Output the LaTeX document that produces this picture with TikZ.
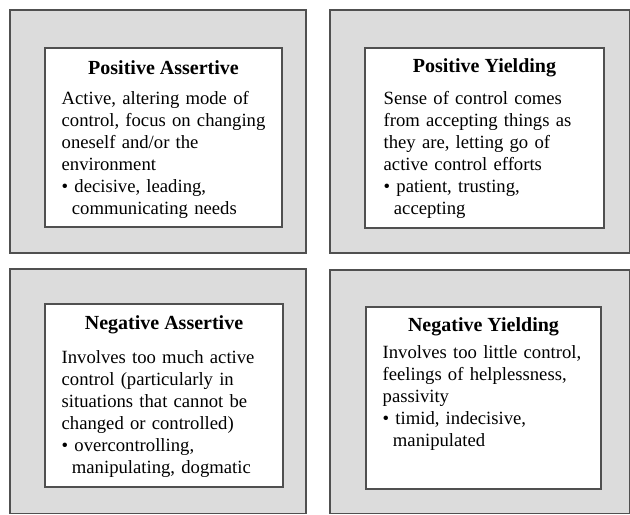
\documentclass[tikz,border=0pt]{standalone}
\usepackage{fontspec}
\setmainfont{Liberation Serif}
\usetikzlibrary{positioning}
\definecolor{panelgray}{RGB}{220,220,220}
\definecolor{edgegray}{RGB}{80,80,80}
\tikzset{
  panel/.style={draw=edgegray, line width=0.9, fill=panelgray},
  card/.style={draw=edgegray, line width=0.9, fill=white, inner sep=0},
  cardtitle/.style={font=\fontsize{15}{18}\selectfont\bfseries, inner sep=0},
  cardtext/.style={font=\fontsize{14}{16.5}\selectfont, align=left, text width=220, inner sep=0, anchor=north west},
}
\newcommand{\bulitem}[2]{\textbullet\ #1\\\hspace*{0.55em}#2}
\begin{document}
\begin{tikzpicture}[x=0.75pt,y=0.75pt,yscale=-1,xscale=1]
        \useasboundingbox (0,0) rectangle (630,514);
        \fill[white] (0,0) rectangle (630,514);

        %Shape: Rectangle [id:panelPA]
        \draw [panel] (10,10) rectangle (306,253) ;
        %Shape: Rectangle [id:panelPY]
        \draw [panel] (330,10) rectangle (629.5,253) ;
        %Shape: Rectangle [id:panelNA]
        \draw [panel] (10,269) rectangle (306,513.5) ;
        %Shape: Rectangle [id:panelNY]
        \draw [panel] (330,270) rectangle (629.5,513.5) ;

        %Shape: Card [id:posassert]
        \node [card, minimum width=237*0.75pt, minimum height=179*0.75pt] (posassert) at (163.5,137.5) {};
        \node [cardtitle, below=20*0.75pt of posassert.north, anchor=center] (posasserttitle) {Positive Assertive};
        \node [cardtext] (posasserttext) at ([xshift=17*0.75pt, yshift=44*0.75pt]posassert.north west)
          {Active, altering mode of\\control, focus on changing\\oneself and/or the\\environment\\\bulitem{decisive, leading,}{communicating needs}};

        %Shape: Card [id:posyield]
        \node [card, minimum width=239*0.75pt, minimum height=180*0.75pt] (posyield) at (484.5,138) {};
        \node [cardtitle, below=20*0.75pt of posyield.north, anchor=center] (posyieldtitle) {Positive Yielding};
        \node [cardtext] (posyieldtext) at ([xshift=19*0.75pt, yshift=44*0.75pt]posyield.north west)
          {Sense of control comes\\from accepting things as\\they are, letting go of\\active control efforts\\\bulitem{patient, trusting,}{accepting}};

        %Shape: Card [id:negassert]
        \node [card, minimum width=238*0.75pt, minimum height=183*0.75pt] (negassert) at (164,395.5) {};
        \node [cardtitle, below=21*0.75pt of negassert.north, anchor=center] (negasserttitle) {Negative Assertive};
        \node [cardtext] (negasserttext) at ([xshift=17*0.75pt, yshift=47*0.75pt]negassert.north west)
          {Involves too much active\\control (particularly in\\situations that cannot be\\changed or controlled)\\\bulitem{overcontrolling,}{manipulating, dogmatic}};

        %Shape: Card [id:negyield]
        \node [card, minimum width=235*0.75pt, minimum height=182*0.75pt] (negyield) at (483.5,398) {};
        \node [cardtitle, below=20*0.75pt of negyield.north, anchor=center] (negyieldtitle) {Negative Yielding};
        \node [cardtext] (negyieldtext) at ([xshift=17*0.75pt, yshift=39*0.75pt]negyield.north west)
          {Involves too little control,\\feelings of helplessness,\\passivity\\\bulitem{timid, indecisive,}{manipulated}};

\end{tikzpicture}
\end{document}
